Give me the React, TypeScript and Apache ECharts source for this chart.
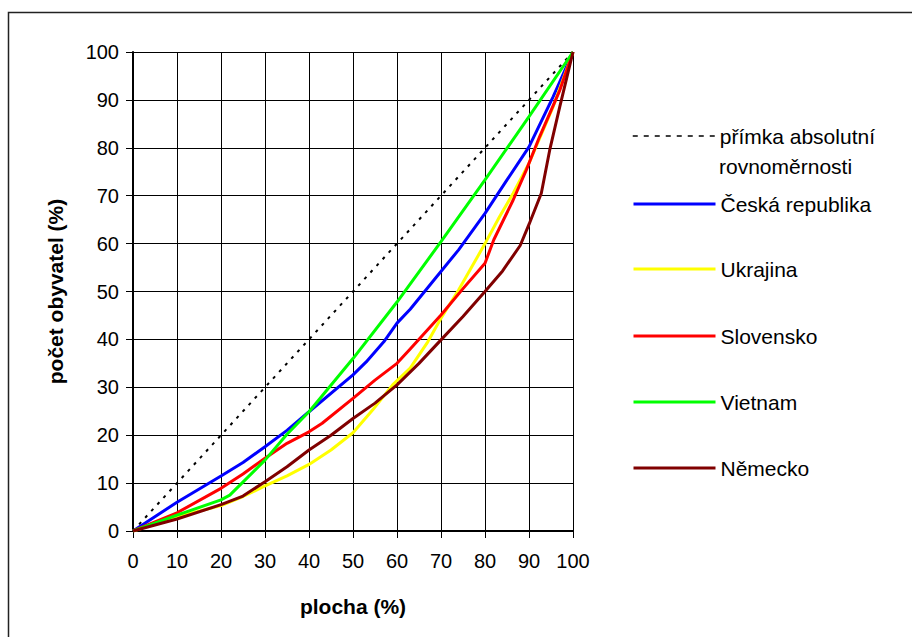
import React, { useEffect, useRef } from "react";
import * as echarts from "echarts";

const FONT = "'Liberation Sans', Arial, sans-serif";

const axisTicks = [0, 10, 20, 30, 40, 50, 60, 70, 80, 90, 100];

const diagName = "přímka absolutní rovnoměrnosti";
const diagX = [0, 100];
const diagY = [0, 100];

const czName = "Česká republika";
const czX = [0, 10, 20, 25, 30, 35, 40, 50, 53, 57, 60, 63, 68.5, 74, 80, 85, 90, 95.5, 100];
const czY = [0, 6, 11.5, 14.3, 17.6, 21, 24.9, 32.6, 35.3, 39.5, 43.4, 46.3, 52.5, 58.7, 66.3, 73.3, 80.2, 90.7, 100];

const uaName = "Ukrajina";
const uaX = [0, 10, 20, 25, 30, 35, 40, 45, 50, 54.5, 59, 63, 67, 70, 74, 80, 83.3, 86.4, 90, 95.5, 100];
const uaY = [0, 3, 5.3, 7.2, 9.4, 11.5, 13.9, 16.9, 20.5, 25.3, 30.5, 34, 39.5, 44.4, 50.3, 60, 65.6, 70.5, 76.8, 88.6, 100];

const skName = "Slovensko";
const skX = [0, 10, 20, 25, 30, 35, 40, 43, 50, 55, 60, 63, 70, 75, 80, 82, 86.4, 89.4, 92.4, 97, 100];
const skY = [0, 3.8, 8.9, 11.9, 15.2, 18.3, 20.7, 22.5, 27.7, 31.5, 35, 38, 45.1, 50.6, 55.9, 60.8, 69.1, 75.4, 82.3, 92, 100];

const vnName = "Vietnam";
const vnX = [0, 10, 20, 22, 30, 35, 40, 50, 60, 70, 80, 90, 100];
const vnY = [0, 3.3, 6.5, 7.5, 14.8, 20.2, 24.9, 36, 47.8, 60.4, 73.3, 86.5, 100];

const deName = "Německo";
const deX = [0, 10, 20, 25, 30, 35, 40, 45, 50, 55, 60, 65, 70, 75, 80, 84, 88, 90, 92.8, 94.7, 97, 100];
const deY = [0, 2.5, 5.5, 7.3, 10.3, 13.4, 16.9, 20, 23.5, 26.7, 30.5, 35, 39.9, 44.8, 50, 54.3, 59.6, 64, 70.5, 79.5, 88.6, 100];

const pairs = (xs: number[], ys: number[]) => xs.map((x, i) => [x, ys[i]]);

const seriesDefs = [
  { name: diagName, x: diagX, y: diagY, color: "#000000", width: 2, type: [3, 6] as any },
  { name: czName, x: czX, y: czY, color: "#0000FF", width: 3, type: "solid" as any },
  { name: uaName, x: uaX, y: uaY, color: "#FFFF00", width: 3, type: "solid" as any },
  { name: skName, x: skX, y: skY, color: "#FF0000", width: 3, type: "solid" as any },
  { name: vnName, x: vnX, y: vnY, color: "#00FF00", width: 3, type: "solid" as any },
  { name: deName, x: deX, y: deY, color: "#800000", width: 3, type: "solid" as any },
];

const legendCenters = [136, 204, 269, 336, 402, 468];

function axisCommon(name: string, nameGap: number, labelMargin: number) {
  return {
    type: "value" as const,
    min: axisTicks[0],
    max: axisTicks[axisTicks.length - 1],
    interval: 10,
    name,
    nameLocation: "middle" as const,
    nameGap,
    nameTextStyle: { color: "#000", fontSize: 21, fontWeight: "bold", fontFamily: FONT },
    axisLine: { show: true, onZero: false, lineStyle: { color: "#000", width: 2 } },
    axisTick: { show: true, length: 7, lineStyle: { color: "#000", width: 1 } },
    axisLabel: { color: "#000", fontSize: 20, fontFamily: FONT, margin: labelMargin },
    splitLine: { show: true, lineStyle: { color: "#000", width: 1 } },
  };
}

export default function App() {
  const ref = useRef<HTMLDivElement>(null);
  useEffect(() => {
    if (!ref.current) return;
    const chart = echarts.init(ref.current, null, { renderer: "svg" });
    const option: any = {
      animation: false,
      backgroundColor: "#ffffff",
      textStyle: { fontFamily: FONT },
      grid: { left: 133, right: 339, top: 52, bottom: 106, containLabel: false },
      xAxis: axisCommon("plocha (%)", 65, 20),
      yAxis: axisCommon("počet obyvatel (%)", 67, 14),
      legend: seriesDefs.map((s, i) => ({
        data: [s.name],
        left: 632,
        top: legendCenters[i] - 12,
        orient: "vertical",
        padding: 0,
        itemWidth: 82,
        itemHeight: 14,
        selectedMode: false,
        itemStyle: { opacity: 0 },
        formatter: i === 0 ? () => "přímka absolutní" : undefined,
        lineStyle: i === 0 ? { type: [5, 6], width: 1.5 } : { width: 3 },
        textStyle: { color: "#000", fontSize: 21, fontFamily: FONT, lineHeight: 24 },
      })),
      graphic: [
        {
          type: "rect",
          silent: true,
          shape: { x: 8.5, y: 12.5, width: 1000, height: 1000 },
          style: { fill: "none", stroke: "#222", lineWidth: 1.5 },
        },
        {
          type: "text",
          left: 719,
          top: 166 - 12,
          silent: true,
          style: { text: "rovnoměrnosti", fill: "#000", font: `21px ${FONT}`, lineHeight: 24 },
        },
      ],
      series: seriesDefs.map((s) => ({
        name: s.name,
        type: "line",
        data: pairs(s.x, s.y),
        symbol: "none",
        showSymbol: false,
        smooth: false,
        color: s.color,
        lineStyle: { color: s.color, width: s.width, type: s.type },
        emphasis: { disabled: true },
      })),
    };
    chart.setOption(option);
    return () => chart.dispose();
  }, []);
  return (
    <div
      ref={ref}
      style={{ position: "absolute", left: 0, top: 0, width: 912, height: 637 }}
    />
  );
}
